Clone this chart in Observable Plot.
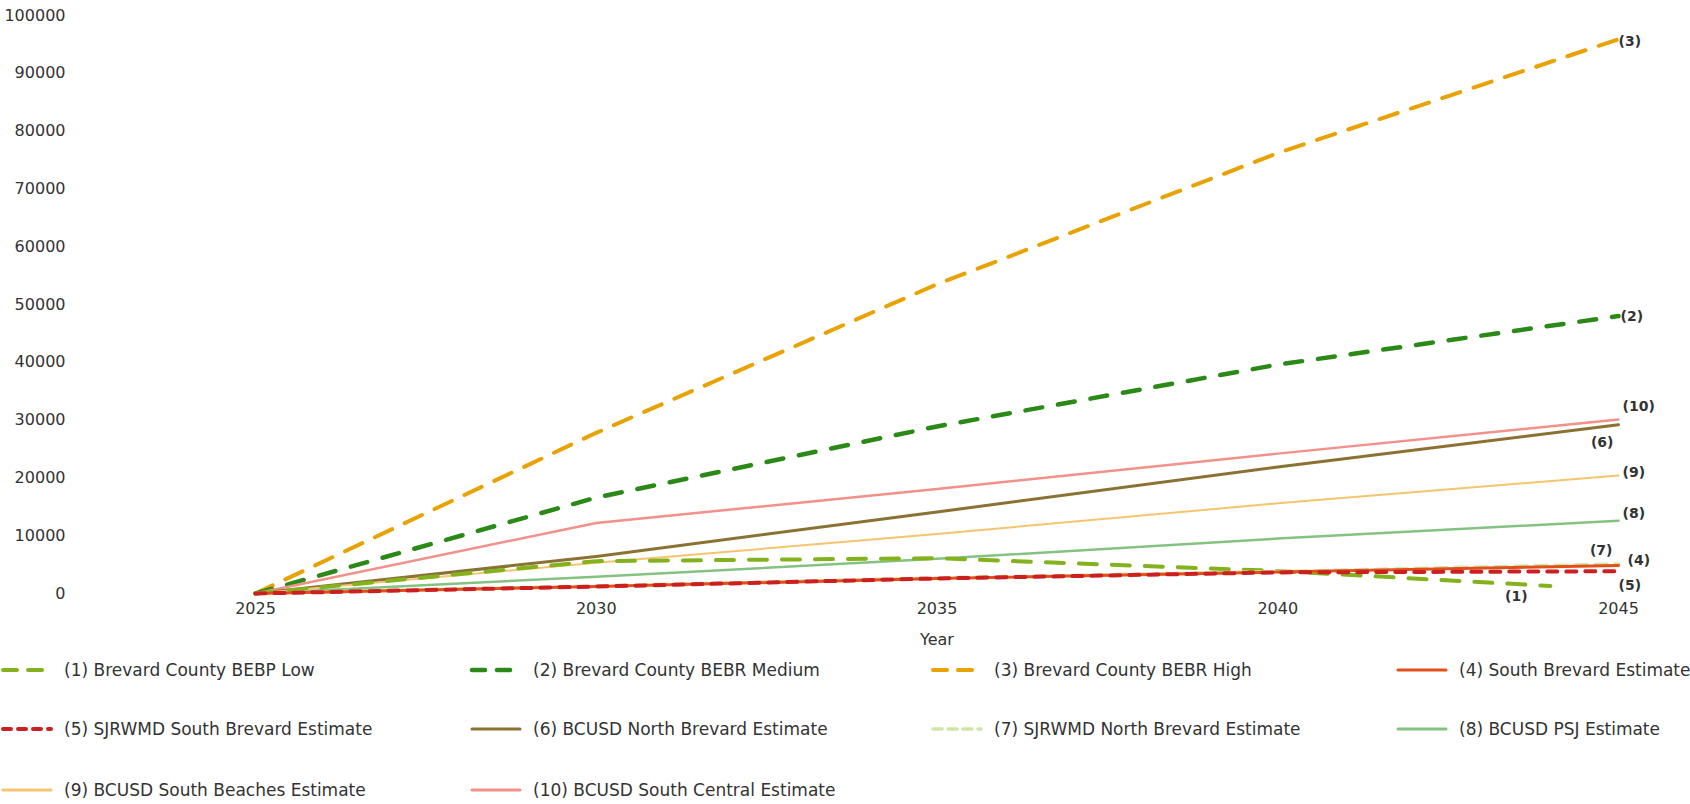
<!DOCTYPE html>
<html>
<head>
<meta charset="utf-8">
<script src="https://cdn.jsdelivr.net/npm/d3@7"></script>
<script src="https://cdn.jsdelivr.net/npm/@observablehq/plot@0.6"></script>
<style>
  body { margin: 0; background: #fff; font-family: "DejaVu Sans", sans-serif; }
  #wrap { position: relative; width: 1690px; height: 804px; overflow: hidden; }
  #legend { position: absolute; left: 0; top: 0; width: 1690px; height: 804px; }
  .item { position: absolute; display: flex; align-items: center; font-size: 17px; color: #333; white-space: nowrap; transform: translateY(-50%); }
  .item svg { margin-right: 10px; flex: none; }
</style>
</head>
<body>
<div id="wrap"><div id="chart"></div><div id="legend"></div></div>
<script>
// ---- data ----
const years = [2025, 2030, 2035, 2040, 2045];
const lowYears = [2025, 2030, 2035, 2040, 2044];
const bebrLow = [0, 5600, 6100, 3900, 1300];
const bebrMedium = [0, 16600, 28900, 39600, 48000];
const bebrHigh = [0, 27800, 53500, 76200, 95900];
const southBrevard = [0, 1200, 2600, 3700, 4850];
const sjrwmdSouthBrevard = [0, 1200, 2600, 3650, 3850];
const bcusdNorthBrevard = [0, 6400, 14100, 21900, 29200];
const sjrwmdNorthBrevard = [0, 1300, 2700, 3800, 5100];
const bcusdPSJ = [0, 2900, 6000, 9500, 12600];
const bcusdSouthBeaches = [0, 5300, 10300, 15600, 20400];
const bcusdSouthCentral = [0, 12200, 18100, 24200, 30100];

const seriesNames = [
  "(1) Brevard County BEBP Low",
  "(2) Brevard County BEBR Medium",
  "(3) Brevard County BEBR High",
  "(4) South Brevard Estimate",
  "(5) SJRWMD South Brevard Estimate",
  "(6) BCUSD North Brevard Estimate",
  "(7) SJRWMD North Brevard Estimate",
  "(8) BCUSD PSJ Estimate",
  "(9) BCUSD South Beaches Estimate",
  "(10) BCUSD South Central Estimate"
];
const endLabels = ["(1)", "(2)", "(3)", "(4)", "(5)", "(6)", "(7)", "(8)", "(9)", "(10)"];
const xTicks = [2025, 2030, 2035, 2040, 2045];
const yTicks = [0, 10000, 20000, 30000, 40000, 50000, 60000, 70000, 80000, 90000, 100000];
const xLabel = "Year";

// ---- styles ----
const seriesX = [lowYears, years, years, years, years, years, years, years, years, years];
const seriesY = [bebrLow, bebrMedium, bebrHigh, southBrevard, sjrwmdSouthBrevard, bcusdNorthBrevard, sjrwmdNorthBrevard, bcusdPSJ, bcusdSouthBeaches, bcusdSouthCentral];
const styles = [
  {color: "#84b21e", width: 4, dash: "18,15"},
  {color: "#2b8a17", width: 4.5, dash: "17,16"},
  {color: "#e8a202", width: 4, dash: "19,14"},
  {color: "#e2501a", width: 3, dash: null},
  {color: "#cc2020", width: 4, dash: "10,9"},
  {color: "#8a7233", width: 3, dash: null},
  {color: "#cfe6a8", width: 3.5, dash: "12,8"},
  {color: "#84c282", width: 2.5, dash: null},
  {color: "#f5c56e", width: 2, dash: null},
  {color: "#f2918a", width: 2.5, dash: null}
];
const labelPos = [
  {dx: -34, dy: 11, anchor: "middle"},
  {dx: 2, dy: 0, anchor: "start"},
  {dx: 0, dy: 2, anchor: "start"},
  {dx: 9, dy: -5, anchor: "start"},
  {dx: 0, dy: 14, anchor: "start"},
  {dx: -5, dy: 18, anchor: "end"},
  {dx: -6, dy: -14, anchor: "end"},
  {dx: 4, dy: -7, anchor: "start"},
  {dx: 4, dy: -3, anchor: "start"},
  {dx: 4, dy: -13, anchor: "start"}
];
const drawOrder = [2, 1, 9, 5, 8, 7, 0, 6, 3, 4];

const rows = [];
seriesNames.forEach((name, i) => {
  seriesX[i].forEach((yr, j) => rows.push({s: i, name, year: yr, value: seriesY[i][j]}));
});
const ends = seriesNames.map((name, i) => ({
  s: i, label: endLabels[i],
  year: seriesX[i][seriesX[i].length - 1],
  value: seriesY[i][seriesY[i].length - 1]
}));

const marks = drawOrder.map(i => Plot.line(rows.filter(r => r.s === i), {
  x: "year", y: "value",
  stroke: styles[i].color, strokeWidth: styles[i].width,
  strokeDasharray: styles[i].dash || undefined,
  strokeLinecap: "round", strokeLinejoin: "round"
}));
["start", "middle", "end"].forEach(anchor => {
  ends.forEach(e => {
    const p = labelPos[e.s];
    if (p.anchor !== anchor) return;
    marks.push(Plot.text([e], {
      x: "year", y: "value", text: "label",
      dx: p.dx, dy: p.dy, textAnchor: anchor,
      fontSize: 14, fontWeight: "bold", fill: "#333"
    }));
  });
});
marks.push(Plot.text([xLabel], {text: d => d, frameAnchor: "bottom", dy: 51, fontSize: 16, fill: "#333"}));

const chart = Plot.plot({
  width: 1690, height: 660,
  marginLeft: 255, marginRight: 72, marginTop: 15, marginBottom: 67,
  style: {fontFamily: "DejaVu Sans, sans-serif", fontSize: "16px", color: "#333", background: "#fff", overflow: "visible"},
  x: {domain: [2025, 2045], ticks: xTicks, tickFormat: "d", tickSize: 0, tickPadding: 9, label: null},
  y: {domain: [0, 100000], ticks: yTicks, tickFormat: d => String(d), tickSize: 0, tickPadding: 190, label: null},
  marks
});
document.getElementById("chart").appendChild(chart);

// ---- legend ----
const legendCols = [0, 469, 930, 1395];
const legendRows = [670, 729, 790];
const legend = document.getElementById("legend");
seriesNames.forEach((name, i) => {
  const col = i % 4, row = Math.floor(i / 4);
  const st = styles[i];
  const div = document.createElement("div");
  div.className = "item";
  div.style.left = legendCols[col] + "px";
  div.style.top = legendRows[row] + "px";
  const dash = st.dash ? st.dash.split(",").map(v => Math.round(+v * 0.75)).join(",") : "";
  div.innerHTML = `<svg width="54" height="12"><line x1="3" y1="6" x2="51" y2="6" stroke="${st.color}" stroke-width="${Math.max(st.width, 3)}" stroke-linecap="round" ${dash ? `stroke-dasharray="${dash}"` : ""}/></svg><span>${name}</span>`;
  legend.appendChild(div);
});
</script>
</body>
</html>
